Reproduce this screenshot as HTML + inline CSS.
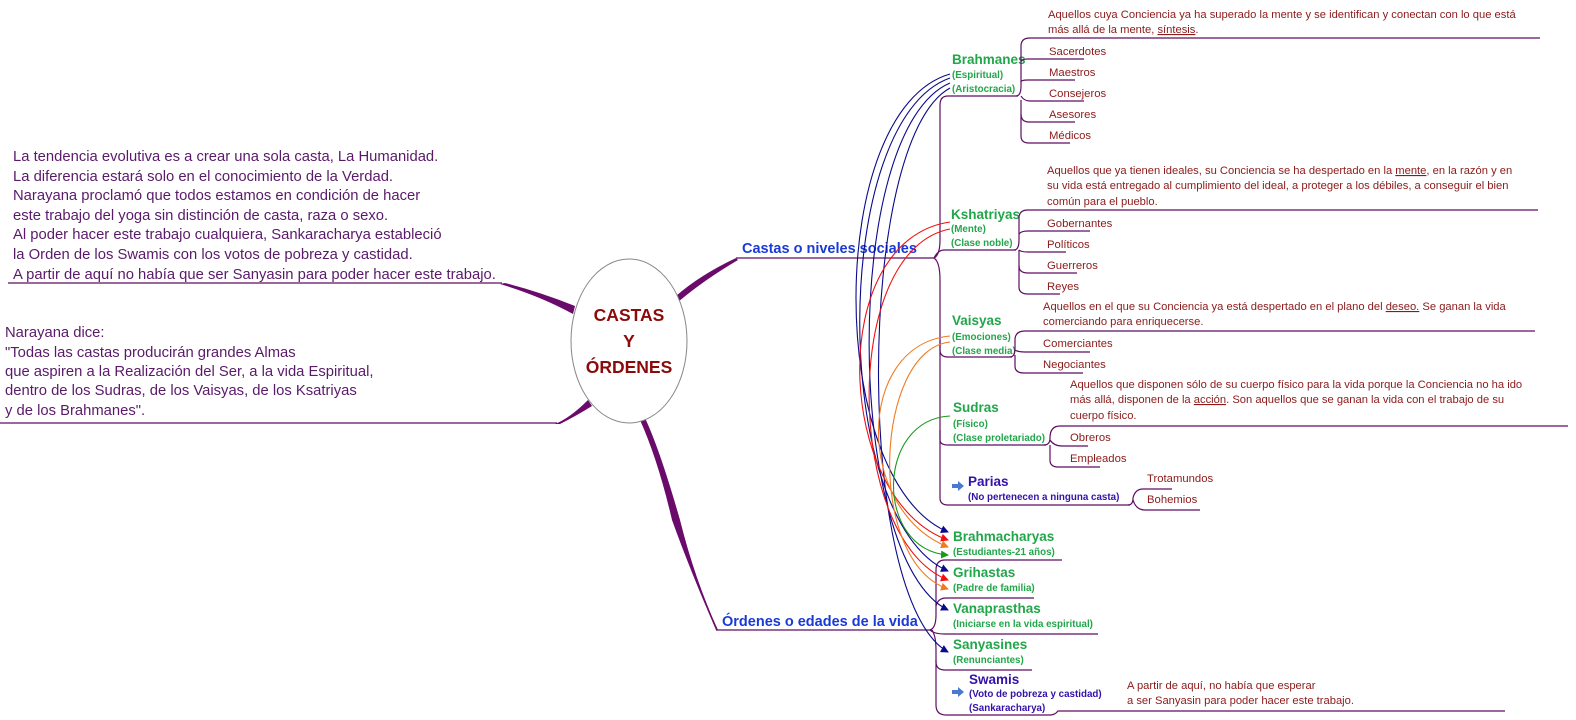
<!DOCTYPE html>
<html><head><meta charset="utf-8"><style>
html,body{margin:0;padding:0;background:#fff;}
svg{display:block;font-family:"Liberation Sans",sans-serif;}
.it{font-size:11.3px;fill:#8b1a1a;}
.ds{font-size:11.2px;fill:#8b1a1a;}
.ct{font-size:13.5px;font-weight:bold;fill:#22a64a;}
.cs{font-size:9.8px;font-weight:bold;fill:#22a64a;}
.lt{font-size:14.8px;fill:#5a1a6a;}
.br{font-size:14.5px;font-weight:bold;fill:#1a3ad6;}
.pl{stroke:#5e0e62;stroke-width:1.2;fill:none;}
</style></head><body>
<svg width="1576" height="720" viewBox="0 0 1576 720" xmlns="http://www.w3.org/2000/svg">
<defs>
<marker id="ab" markerWidth="8" markerHeight="8" refX="7" refY="4" orient="auto" markerUnits="userSpaceOnUse"><path d="M0,0 L8,4 L0,8z" fill="#0a0a8a"/></marker>
<marker id="ar" markerWidth="8" markerHeight="8" refX="7" refY="4" orient="auto" markerUnits="userSpaceOnUse"><path d="M0,0 L8,4 L0,8z" fill="#ee1111"/></marker>
<marker id="ao" markerWidth="8" markerHeight="8" refX="7" refY="4" orient="auto" markerUnits="userSpaceOnUse"><path d="M0,0 L8,4 L0,8z" fill="#f07a20"/></marker>
<marker id="ag" markerWidth="8" markerHeight="8" refX="7" refY="4" orient="auto" markerUnits="userSpaceOnUse"><path d="M0,0 L8,4 L0,8z" fill="#1a9a1a"/></marker>
</defs>

<path d="M676,296 Q700,275 736,258 L738,260 Q704,280 678,302 Z" fill="#6a0a6a"/>
<path d="M575,306 Q540,292 505,283 L500,284 Q540,296 573,314 Z" fill="#6a0a6a"/>
<path d="M588,400 Q570,418 555,424 L560,424 Q576,416 592,406 Z" fill="#6a0a6a"/>
<path d="M645,418 Q660,450 680,520 Q695,580 718,630 L716,630 Q690,570 672,520 Q658,460 640,420 Z" fill="#6a0a6a"/>
<line x1="8" y1="283" x2="502" y2="283" class="pl"/>
<line x1="0" y1="423" x2="557" y2="423" class="pl"/>
<line x1="736" y1="258" x2="934" y2="258" class="pl"/>
<line x1="716" y1="630" x2="932" y2="630" class="pl"/>

<ellipse cx="629" cy="341" rx="58" ry="82" fill="#fff" stroke="#888" stroke-width="1"/>
<g font-weight="bold" font-size="17.5" fill="#8b0a0a" text-anchor="middle">
<text x="629" y="321">CASTAS</text><text x="629" y="347">Y</text><text x="629" y="373">ÓRDENES</text></g>

<g class="lt">
<text x="13" y="161">La tendencia evolutiva es a crear una sola casta, La Humanidad.</text>
<text x="13" y="181">La diferencia estará solo en el conocimiento de la Verdad.</text>
<text x="13" y="200">Narayana proclamó que todos estamos en condición de hacer</text>
<text x="13" y="220">este trabajo del yoga sin distinción de casta, raza o sexo.</text>
<text x="13" y="239">Al poder hacer este trabajo cualquiera, Sankaracharya estableció</text>
<text x="13" y="259">la Orden de los Swamis con los votos de pobreza y castidad.</text>
<text x="13" y="279">A partir de aquí no había que ser Sanyasin para poder hacer este trabajo.</text>
<text x="5" y="337">Narayana dice:</text>
<text x="5" y="357">"Todas las castas producirán grandes Almas</text>
<text x="5" y="376">que aspiren a la Realización del Ser, a la vida Espiritual,</text>
<text x="5" y="395">dentro de los Sudras, de los Vaisyas, de los Ksatriyas</text>
<text x="5" y="415">y de los Brahmanes".</text>
</g>

<text x="742" y="253" class="br">Castas o niveles sociales</text>
<text x="722" y="626" class="br">Órdenes o edades de la vida</text>

<path class="pl" d="M934,258 Q940,255 940,240 L940,105 Q940,96 948,96 L1018,96"/>
<path class="pl" d="M934,258 Q938,250 944,250 L1016,250"/>
<path class="pl" d="M934,258 Q940,262 940,280 L940,350 Q940,357 948,357 L1012,357"/>
<path class="pl" d="M940,340 L940,440 Q940,445 948,445 L1046,445"/>
<path class="pl" d="M940,430 L940,498 Q940,505 948,505 L1130,505"/>

<text x="952" y="64" class="ct">Brahmanes</text>
<text x="952" y="78" class="cs">(Espiritual)</text>
<text x="952" y="92" class="cs">(Aristocracia)</text>
<path class="pl" d="M1016,96 Q1021,96 1021,86 L1021,46 Q1021,38 1030,38 L1540,38"/>
<path class="pl" d="M1021,62 Q1021,59 1028,59 L1084,59"/>
<path class="pl" d="M1021,82 Q1021,80 1028,80 L1075,80"/>
<path class="pl" d="M1021,96 Q1024,101 1030,101 L1084,101"/>
<path class="pl" d="M1021,100 L1021,114 Q1021,122 1029,122 L1075,122"/>
<path class="pl" d="M1021,114 L1021,136 Q1021,143 1029,143 L1070,143"/>
<text x="1048" y="18" class="ds">Aquellos cuya Conciencia ya ha superado la mente y se identifican y conectan con lo que está</text>
<text x="1048" y="33" class="ds">más allá de la mente, <tspan text-decoration="underline">síntesis</tspan>.</text>
<g class="it"><text x="1049" y="55">Sacerdotes</text><text x="1049" y="76">Maestros</text><text x="1049" y="97">Consejeros</text><text x="1049" y="118">Asesores</text><text x="1049" y="139">Médicos</text></g>

<text x="951" y="219" class="ct">Kshatriyas</text>
<text x="951" y="232" class="cs">(Mente)</text>
<text x="951" y="246" class="cs">(Clase noble)</text>
<path class="pl" d="M1014,250 Q1019,250 1019,240 L1019,218 Q1019,210 1028,210 L1538,210"/>
<path class="pl" d="M1019,234 Q1021,231 1028,231 L1090,231"/>
<path class="pl" d="M1019,250 Q1021,252 1028,252 L1066,252"/>
<path class="pl" d="M1019,250 L1019,266 Q1019,273 1028,273 L1077,273"/>
<path class="pl" d="M1019,266 L1019,287 Q1019,294 1028,294 L1060,294"/>
<text x="1047" y="174" class="ds">Aquellos que ya tienen ideales, su Conciencia se ha despertado en la   <tspan text-decoration="underline">mente</tspan>, en la razón y en</text>
<text x="1047" y="189" class="ds">su vida está entregado al cumplimiento del ideal, a proteger a los débiles, a conseguir el bien</text>
<text x="1047" y="205" class="ds">común para el pueblo.</text>
<g class="it"><text x="1047" y="227">Gobernantes</text><text x="1047" y="248">Políticos</text><text x="1047" y="269">Guerreros</text><text x="1047" y="290">Reyes</text></g>

<text x="952" y="325" class="ct">Vaisyas</text>
<text x="952" y="340" class="cs">(Emociones)</text>
<text x="952" y="354" class="cs">(Clase media)</text>
<path class="pl" d="M1010,357 Q1015,357 1015,348 L1015,340 Q1015,331 1025,331 L1535,331"/>
<path class="pl" d="M1015,350 Q1018,352 1025,352 L1090,352"/>
<path class="pl" d="M1015,355 L1015,366 Q1015,373 1024,373 L1083,373"/>
<text x="1043" y="310" class="ds">Aquellos en el que su Conciencia ya está despertado en el plano del   <tspan text-decoration="underline">deseo.</tspan>  Se ganan la vida</text>
<text x="1043" y="325" class="ds">comerciando para enriquecerse.</text>
<g class="it"><text x="1043" y="347">Comerciantes</text><text x="1043" y="368">Negociantes</text></g>

<text x="953" y="412" class="ct">Sudras</text>
<text x="953" y="427" class="cs">(Físico)</text>
<text x="953" y="441" class="cs">(Clase proletariado)</text>
<path class="pl" d="M1044,445 Q1050,445 1050,438 Q1050,426 1060,426 L1568,426"/>
<path class="pl" d="M1050,440 Q1054,446 1062,446 L1088,446"/>
<path class="pl" d="M1050,445 L1050,460 Q1050,467 1058,467 L1100,467"/>
<text x="1070" y="388" class="ds">Aquellos que disponen sólo de su cuerpo físico para la vida porque la Conciencia no ha ido</text>
<text x="1070" y="403" class="ds">más allá, disponen de la  <tspan text-decoration="underline">acción</tspan>. Son aquellos que se ganan la vida con el trabajo de su</text>
<text x="1070" y="419" class="ds">cuerpo físico.</text>
<g class="it"><text x="1070" y="441">Obreros</text><text x="1070" y="462">Empleados</text></g>

<path d="M952,484 l6,0 l0,-3 l6,5 l-6,5 l0,-3 l-6,0z" fill="#4a7ad0"/>
<text x="968" y="486" font-size="13.5" font-weight="bold" fill="#3311aa">Parias</text>
<text x="968" y="500" font-size="9.8" font-weight="bold" fill="#3311aa">(No pertenecen a ninguna casta)</text>
<path class="pl" d="M1128,505 Q1133,505 1133,498 Q1135,489 1143,489 L1172,489"/>
<path class="pl" d="M1133,500 Q1136,510 1145,510 L1200,510"/>
<g class="it"><text x="1147" y="482">Trotamundos</text><text x="1147" y="503">Bohemios</text></g>

<path class="pl" d="M930,630 Q936,628 936,615 L936,570 Q936,560 945,560 L1062,560"/>
<path class="pl" d="M936,605 L936,606 Q938,598 946,598 L1034,598"/>
<path class="pl" d="M930,630 Q934,634 945,634 L1098,634"/>
<path class="pl" d="M932,630 Q936,636 936,650 L936,662 Q936,670 945,670 L1032,670"/>
<path class="pl" d="M936,660 L936,705 Q936,715 946,715 L1050,715 Q1055,715 1058,711 L1505,711"/>

<text x="953" y="541" class="ct">Brahmacharyas</text>
<text x="953" y="555" class="cs">(Estudiantes-21 años)</text>
<text x="953" y="577" class="ct">Grihastas</text>
<text x="953" y="591" class="cs">(Padre de familia)</text>
<text x="953" y="613" class="ct">Vanaprasthas</text>
<text x="953" y="627" class="cs">(Iniciarse en la vida espiritual)</text>
<text x="953" y="649" class="ct">Sanyasines</text>
<text x="953" y="663" class="cs">(Renunciantes)</text>
<path d="M952,690 l6,0 l0,-3 l6,5 l-6,5 l0,-3 l-6,0z" fill="#4a7ad0"/>
<text x="969" y="684" font-size="13.5" font-weight="bold" fill="#3311aa">Swamis</text>
<text x="969" y="697" font-size="9.8" font-weight="bold" fill="#3311aa">(Voto de pobreza y castidad)</text>
<text x="969" y="711" font-size="9.8" font-weight="bold" fill="#3311aa">(Sankaracharya)</text>
<text x="1127" y="689" class="ds">A partir de aquí, no había que esperar</text>
<text x="1127" y="704" class="ds">a ser Sanyasin para poder hacer este trabajo.</text>

<g fill="none" stroke-width="1.1">
<path d="M950,74 C825,110 825,480 948,532" stroke="#0a0a8a" marker-end="url(#ab)"/>
<path d="M950,78 C830,120 830,520 948,571" stroke="#0a0a8a" marker-end="url(#ab)"/>
<path d="M950,83 C840,130 845,560 948,610" stroke="#0a0a8a" marker-end="url(#ab)"/>
<path d="M950,88 C855,140 855,600 948,652" stroke="#0a0a8a" marker-end="url(#ab)"/>
<path d="M950,222 C825,240 835,500 948,540" stroke="#ee1111" marker-end="url(#ar)"/>
<path d="M950,229 C840,250 845,540 948,580" stroke="#ee1111" marker-end="url(#ar)"/>
<path d="M950,336 C855,345 855,510 948,547" stroke="#f07a20" marker-end="url(#ao)"/>
<path d="M950,342 C875,350 865,560 948,589" stroke="#f07a20" marker-end="url(#ao)"/>
<path d="M950,416 C875,420 875,550 948,555" stroke="#1a9a1a" marker-end="url(#ag)"/>
</g>
</svg>
</body></html>
